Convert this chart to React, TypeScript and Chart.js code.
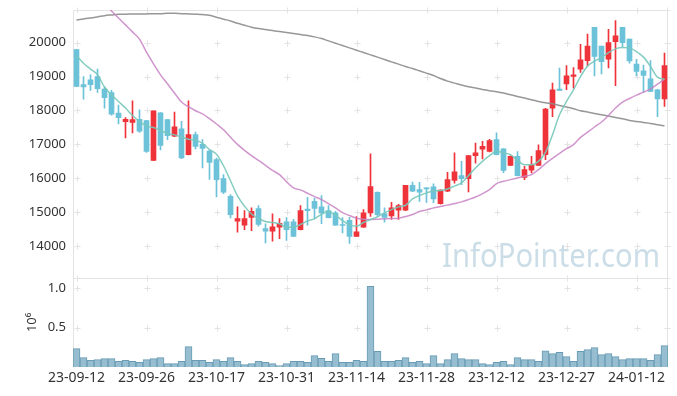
import React, { useEffect, useRef } from 'react';
import { Chart, registerables } from 'chart.js';

Chart.register(...registerables);

const dates = [
  '23-09-12', '23-09-13', '23-09-14', '23-09-15', '23-09-18', '23-09-19', '23-09-20', '23-09-21', '23-09-22', '23-09-25',
  '23-09-26', '23-09-27', '23-10-04', '23-10-05', '23-10-06', '23-10-10', '23-10-11', '23-10-12', '23-10-13', '23-10-16',
  '23-10-17', '23-10-18', '23-10-19', '23-10-20', '23-10-23', '23-10-24', '23-10-25', '23-10-26', '23-10-27', '23-10-30',
  '23-10-31', '23-11-01', '23-11-02', '23-11-03', '23-11-06', '23-11-07', '23-11-08', '23-11-09', '23-11-10', '23-11-13',
  '23-11-14', '23-11-15', '23-11-16', '23-11-17', '23-11-20', '23-11-21', '23-11-22', '23-11-23', '23-11-24', '23-11-27',
  '23-11-28', '23-11-29', '23-11-30', '23-12-01', '23-12-04', '23-12-05', '23-12-06', '23-12-07', '23-12-08', '23-12-11',
  '23-12-12', '23-12-13', '23-12-14', '23-12-15', '23-12-18', '23-12-19', '23-12-20', '23-12-21', '23-12-22', '23-12-26',
  '23-12-27', '23-12-28', '24-01-02', '24-01-03', '24-01-04', '24-01-05', '24-01-08', '24-01-09', '24-01-10', '24-01-11',
  '24-01-12', '24-01-15', '24-01-16', '24-01-17', '24-01-18',
];

const opens = [
  19790, 18760, 18900, 19000, 18630, 18530, 17920, 17670, 17650, 17740,
  17700, 16530, 17930, 17730, 17240, 17460, 16700, 17290, 17000, 16800,
  16550, 15990, 15470, 14740, 14620, 14850, 15110, 14520, 14440, 14560,
  14720, 14720, 14490, 15090, 15320, 15160, 15050, 14980, 14640, 14760,
  14290, 14560, 14980, 15590, 14960, 14890, 15060, 15060, 15790, 15670,
  15720, 15750, 15250, 15620, 15940, 16080, 15990, 16670, 16860, 16790,
  17140, 16870, 16380, 16650, 16030, 16240, 16380, 16700, 18070, 18630,
  18780, 19000, 19220, 19470, 20450, 19900, 19510, 20030, 20450, 20100,
  19370, 19170, 18930, 18610, 18340,
];
const highs = [
  19800, 19000, 19050, 19220, 18690, 18590, 18160, 17790, 18280, 18020,
  17710, 17990, 17940, 17740, 17950, 17680, 18280, 17360, 17140, 16850,
  16600, 16110, 15520, 15160, 15050, 15130, 15200, 14660, 14950, 14810,
  14840, 14790, 15200, 15440, 15420, 15490, 15200, 15030, 14840, 14850,
  14870, 15080, 16720, 15600, 15130, 15290, 15230, 15790, 15890, 15880,
  15730, 15840, 15660, 16180, 16750, 16500, 16670, 17040, 17090, 17150,
  17340, 16880, 16660, 16790, 16350, 16650, 16990, 18060, 18810, 19250,
  19320, 19260, 19950, 20250, 20450, 19900, 20390, 20650, 20450, 20100,
  19510, 19340, 19470, 18620, 19690,
];
const lows = [
  18700, 18330, 18590, 18530, 18070, 17860, 17600, 17190, 17340, 17350,
  16760, 16520, 16840, 17140, 17230, 16580, 16690, 16870, 16310, 15970,
  15450, 15550, 14830, 14410, 14490, 14460, 14590, 14100, 14150, 14220,
  14170, 14290, 14480, 14620, 14810, 14660, 14830, 14610, 14390, 14080,
  14290, 14550, 14880, 14870, 14710, 14790, 14790, 15050, 15610, 15320,
  15290, 15280, 15240, 15610, 15860, 15810, 15600, 16450, 16570, 16780,
  16690, 16170, 16370, 16070, 15960, 16160, 16380, 16550, 17820, 18580,
  18610, 18660, 19120, 19310, 19020, 19080, 19250, 18730, 19880, 19390,
  19020, 18530, 18550, 17820, 18120,
];
const closes = [
  18710, 18690, 18760, 18640, 18380, 17890, 17790, 17740, 17730, 17390,
  16790, 17990, 16970, 17260, 17520, 16600, 17290, 16940, 16880, 16470,
  15960, 15590, 14930, 14810, 14810, 15030, 14640, 14440, 14570, 14670,
  14490, 14290, 15050, 15050, 15110, 14980, 14840, 14620, 14610, 14290,
  14420, 14980, 15760, 14930, 14850, 15130, 15200, 15790, 15620, 15590,
  15690, 15390, 15650, 15960, 16190, 15990, 16670, 16750, 16940, 17110,
  16700, 16230, 16650, 16080, 16260, 16400, 16820, 18040, 18610, 18590,
  19020, 19050, 19490, 19900, 19590, 19440, 20000, 20200, 20000, 19460,
  19150, 19030, 18560, 18340, 19320,
];
const volumes = [
  233000, 119000, 85000, 93000, 106000, 106000, 72000, 85000, 72000, 59000,
  93000, 106000, 119000, 42000, 42000, 72000, 258000, 85000, 85000, 59000,
  93000, 72000, 119000, 72000, 30000, 42000, 72000, 59000, 42000, 17000,
  42000, 72000, 72000, 59000, 144000, 110000, 72000, 169000, 59000, 59000,
  85000, 72000, 1025000, 199000, 72000, 72000, 85000, 119000, 59000, 72000,
  42000, 144000, 42000, 93000, 169000, 106000, 93000, 93000, 42000, 30000,
  59000, 72000, 30000, 119000, 93000, 93000, 72000, 207000, 169000, 186000,
  131000, 72000, 199000, 220000, 246000, 157000, 169000, 131000, 93000, 106000,
  106000, 106000, 85000, 157000, 271000,
];
const ma5 = [
  19610, 19390, 19220, 19050, 18690, 18460, 18265, 18070, 17850, 17680,
  17540, 17500, 17410, 17320, 17280, 17220, 17150, 17120, 17030, 16850,
  16710, 16370, 15930, 15480, 15180, 14950, 14815, 14726, 14697, 14659,
  14559, 14559, 14638, 14746, 14806, 14942, 15020, 14912, 14756, 14629,
  14589, 14697, 14785, 14865, 14982, 15079, 15159, 15206, 15393, 15491,
  15570, 15628, 15640, 15686, 15770, 15864, 16080, 16306, 16500, 16668,
  16794, 16747, 16697, 16529, 16403, 16403, 16500, 16765, 17285, 17874,
  18265, 18609, 19000, 19306, 19453, 19559, 19706, 19815, 19853, 19844,
  19735, 19571, 19297, 18982, 18923,
];
const ma20 = [
  21900, 21720, 21530, 21340, 21140, 20932, 20726, 20521, 20315, 20100,
  19718, 19374, 19050, 18785, 18512, 18247, 18110, 17990, 17900, 17760,
  17600, 17430, 17210, 17000, 16824, 16668, 16529, 16382, 16235, 16109,
  15900, 15720, 15659, 15559, 15462, 15374, 15256, 15129, 14991, 14903,
  14824, 14794, 14785, 14794, 14806, 14815, 14824, 14874, 14932, 15020,
  15070, 15129, 15170, 15210, 15256, 15306, 15374, 15450, 15550, 15667,
  15844, 15912, 15962, 16011, 16060, 16109, 16256, 16432, 16588, 16735,
  16873, 16991, 17206, 17360, 17512, 17659, 17853, 18071, 18247, 18353,
  18453, 18541, 18638, 18776, 18923,
];
const ma60 = [
  20668, 20697, 20726, 20756, 20794, 20815, 20835, 20835, 20844, 20844,
  20844, 20853, 20853, 20864, 20864, 20853, 20844, 20835, 20825, 20805,
  20747, 20690, 20638, 20570, 20511, 20453, 20412, 20382, 20353, 20324,
  20294, 20265, 20235, 20206, 20168, 20118, 20050, 19982, 19912, 19844,
  19776, 19706, 19638, 19571, 19500, 19432, 19365, 19294, 19235, 19168,
  19100, 19029, 18940, 18865, 18806, 18747, 18697, 18659, 18618, 18579,
  18550, 18512, 18462, 18412, 18365, 18315, 18265, 18226, 18197, 18147,
  18100, 18050, 17991, 17953, 17912, 17874, 17835, 17794, 17756, 17706,
  17676, 17647, 17618, 17579, 17550,
];
const priceTicks = [14000, 15000, 16000, 17000, 18000, 19000, 20000];
const volumeTicks = [500000, 1000000];
const labelEvery = 10;

const UP = 'rgb(238,52,58)';
const DOWN = 'rgb(108,194,216)';
const FONT = '"Noto Sans", "DejaVu Sans", sans-serif';

const zeroPad = (s: any) => {
  s.paddingTop = 0;
  s.paddingBottom = 0;
  s.paddingLeft = 0;
  s.paddingRight = 0;
};

export default function App() {
  const ref = useRef<HTMLCanvasElement>(null);

  useEffect(() => {
    document.body.style.margin = '0';
    const canvas = ref.current;
    if (!canvas) return;
    const colors = opens.map((o, i) => (closes[i] >= o ? UP : DOWN));

    const deco = {
      id: 'deco',
      beforeDatasetsDraw(chart: any) {
        const { ctx, chartArea } = chart;
        const xs = chart.scales.x;
        const ys = chart.scales.y;
        const ys2 = chart.scales.y2;
        ctx.save();
        // watermark
        ctx.font = '32px ' + FONT;
        ctx.fillStyle = 'rgba(186,209,223,0.75)';
        ctx.textBaseline = 'alphabetic';
        ctx.textAlign = 'left';
        ctx.fillText('InfoPointer.com', chartArea.right - 226, ys.bottom - 11, 218);
        // frame
        ctx.strokeStyle = '#e3e3e3';
        ctx.lineWidth = 1;
        const L = Math.round(chartArea.left) + 0.5;
        const R = Math.round(chartArea.right) - 0.5;
        const T = Math.round(chartArea.top) + 0.5;
        const M = Math.round(ys.bottom) + 0.5;
        const B = Math.round(chartArea.bottom) - 0.5;
        ctx.beginPath();
        ctx.moveTo(L, T); ctx.lineTo(R, T);
        ctx.moveTo(L, M); ctx.lineTo(R, M);
        ctx.moveTo(L, B); ctx.lineTo(R, B);
        ctx.moveTo(L, T); ctx.lineTo(L, B);
        ctx.moveTo(R, T); ctx.lineTo(R, B);
        ctx.stroke();
        // cross marks
        ctx.strokeStyle = '#e3e3e3';
        const xPix: number[] = [];
        for (let i = 0; i < dates.length; i += labelEvery) xPix.push(Math.round(xs.getPixelForValue(i)) + 0.5);
        xPix.push(R);
        const yPix: number[] = [T, M];
        priceTicks.forEach(v => yPix.push(Math.round(ys.getPixelForValue(v)) + 0.5));
        volumeTicks.forEach(v => yPix.push(Math.round(ys2.getPixelForValue(v)) + 0.5));
        ctx.beginPath();
        xPix.forEach(px => {
          yPix.forEach(py => {
            ctx.moveTo(px - 3, py); ctx.lineTo(px + 3, py);
            ctx.moveTo(px, py - 3); ctx.lineTo(px, py + 3);
          });
        });
        ctx.stroke();
        ctx.restore();
      },
    };

    const tickFont = { family: FONT, size: 13 };

    const chart = new Chart(canvas, {
      type: 'bar',
      data: {
        labels: dates,
        datasets: [
          {
            type: 'line', data: ma5, yAxisID: 'y', borderColor: 'rgba(120,200,186,0.9)', borderWidth: 1.5,
            pointRadius: 0, cubicInterpolationMode: 'monotone', order: 0,
          } as any,
          {
            type: 'line', data: ma20, yAxisID: 'y', borderColor: 'rgba(200,130,196,0.85)', borderWidth: 1.5,
            pointRadius: 0, cubicInterpolationMode: 'monotone', order: 1,
          } as any,
          {
            type: 'line', data: ma60, yAxisID: 'y', borderColor: 'rgba(140,140,140,0.9)', borderWidth: 1.5,
            pointRadius: 0, cubicInterpolationMode: 'monotone', order: 2,
          } as any,
          {
            type: 'bar', data: opens.map((o, i) => [o, closes[i]]), yAxisID: 'y', backgroundColor: colors,
            barThickness: 5, grouped: false, minBarLength: 1, order: 3,
          } as any,
          {
            type: 'bar', data: lows.map((l, i) => [l, highs[i]]), yAxisID: 'y', backgroundColor: colors,
            barThickness: 1, grouped: false, order: 4,
          } as any,
          {
            type: 'bar', data: volumes, yAxisID: 'y2', backgroundColor: 'rgba(150,190,208,1)',
            borderColor: 'rgb(105,155,180)', borderWidth: 1, categoryPercentage: 1, barPercentage: 1,
            grouped: false, order: 5,
          } as any,
        ],
      },
      options: {
        animation: false,
        responsive: false,
        layout: { padding: { left: 0, right: 9, top: 10, bottom: 0 } },
        plugins: { legend: { display: false }, tooltip: { enabled: false } },
        scales: {
          x: {
            type: 'category', offset: true,
            grid: { display: false, drawTicks: false }, border: { display: false },
            ticks: {
              autoSkip: false, maxRotation: 0, minRotation: 0, padding: 3, color: '#333',
              font: { family: FONT, size: 14 },
              callback: (_v: any, i: number) => (i % labelEvery === 0 ? dates[i] : ''),
            },
            afterFit: (s: any) => { s.height = 29; zeroPad(s); },
          },
          y: {
            type: 'linear', position: 'left', stack: 'panes', stackWeight: 3, weight: 2,
            min: 13070, max: 20960,
            grid: { display: false, drawTicks: false }, border: { display: false },
            ticks: { padding: 7, color: '#333', font: tickFont, callback: (v: any) => String(v) },
            afterBuildTicks: (s: any) => { s.ticks = priceTicks.map(v => ({ value: v })); },
            afterFit: (s: any) => { s.width = 73; zeroPad(s); },
          },
          y2: {
            type: 'linear', position: 'left', stack: 'panes', stackWeight: 1, weight: 1,
            min: 0, max: 1134000,
            grid: { display: false, drawTicks: false }, border: { display: false },
            title: { display: true, text: '10⁶', color: '#333', font: tickFont, padding: { top: 24, bottom: 0 } },
            ticks: { padding: 7, color: '#333', font: tickFont, callback: (v: any) => (v / 1e6).toFixed(1) },
            afterBuildTicks: (s: any) => { s.ticks = volumeTicks.map(v => ({ value: v })); },
            afterFit: (s: any) => { s.width = 73; zeroPad(s); },
          },
        },
      } as any,
      plugins: [deco],
    });

    return () => chart.destroy();
  }, []);

  return (
    <div style={{ width: 677, height: 396 }}>
      <canvas ref={ref} width={677} height={396} style={{ display: 'block' }} />
    </div>
  );
}
